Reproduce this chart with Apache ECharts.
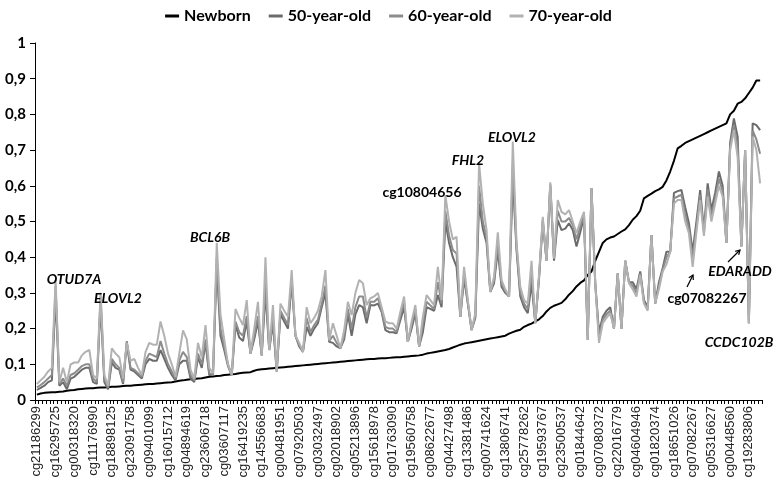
<!DOCTYPE html>
<html><head><meta charset="utf-8">
<script src="https://cdn.jsdelivr.net/npm/echarts@6/dist/echarts.min.js"></script>
<style>html,body{margin:0;padding:0;background:#fff}#c{width:777px;height:485px}</style>
</head><body><div id="c"></div>
<script>
const tickLabels = ['cg21186299','cg16295725','cg00318320','cg11176990','cg18898125','cg23091758','cg09401099','cg16015712','cg04894619','cg23606718','cg03607117','cg16419235','cg14556683','cg00481951','cg07920503','cg03032497','cg02018902','cg05213896','cg15618978','cg01763090','cg19560758','cg08622677','cg04427498','cg13381486','cg00741624','cg13806741','cg25778262','cg19593767','cg23500537','cg01844642','cg07080372','cg22016779','cg04604946','cg01820374','cg18651026','cg07082267','cg05316627','cg00448560','cg19283806'];

const newborn = [
.015,.018,.02,.021,.022,.022,.023,.024,.026,.027,
.028,.03,.031,.032,.033,.033,.034,.035,.035,.036,
.037,.037,.038,.039,.04,.04,.041,.042,.043,.044,
.045,.045,.046,.047,.048,.049,.05,.052,.054,.055,
.057,.058,.059,.06,.061,.063,.065,.066,.067,.068,
.07,.071,.072,.073,.075,.076,.077,.078,.082,.085,
.086,.087,.088,.089,.09,.091,.092,.093,.094,.095,
.096,.097,.098,.099,.1,.101,.102,.103,.104,.105,
.106,.107,.108,.109,.11,.111,.112,.113,.114,.115,
.115,.116,.117,.117,.118,.119,.12,.12,.121,.122,
.123,.124,.125,.127,.13,.132,.134,.136,.138,.14,
.143,.147,.151,.155,.158,.16,.162,.164,.166,.168,
.17,.172,.174,.176,.178,.18,.186,.19,.194,.197,
.205,.21,.214,.22,.226,.235,.248,.258,.264,.268,
.272,.282,.295,.305,.318,.328,.335,.35,.36,.39,
.415,.44,.45,.455,.458,.465,.472,.478,.49,.505,
.515,.53,.565,.572,.578,.585,.59,.597,.615,.64,
.67,.705,.712,.72,.725,.73,.735,.74,.745,.75,
.755,.76,.765,.77,.775,.8,.81,.83,.835,.845,
.86,.875,.895,.895];

const age50 = [
.028,.034,.04,.05,.055,.29,.04,.05,.03,.06,
.065,.075,.085,.09,.09,.05,.045,.27,.05,.03,
.105,.09,.085,.045,.16,.085,.08,.07,.06,.1,
.115,.11,.11,.14,.115,.09,.07,.055,.1,.11,
.11,.06,.05,.12,.09,.16,.07,.07,.38,.18,
.14,.095,.07,.21,.175,.165,.22,.13,.17,.22,
.125,.3,.14,.215,.08,.24,.22,.2,.33,.18,
.15,.135,.205,.18,.2,.215,.26,.3,.163,.16,
.15,.145,.17,.24,.18,.24,.266,.26,.215,.266,
.265,.27,.247,.196,.19,.19,.187,.224,.26,.163,
.2,.243,.15,.19,.26,.255,.25,.294,.26,.5,
.44,.4,.373,.233,.34,.27,.196,.23,.55,.48,
.44,.303,.327,.42,.317,.3,.29,.62,.42,.29,
.26,.243,.327,.215,.34,.5,.39,.6,.39,.504,
.476,.48,.495,.476,.43,.47,.513,.168,.593,.327,
.19,.233,.25,.26,.2,.355,.2,.39,.33,.33,
.31,.36,.28,.26,.462,.27,.33,.37,.415,.415,
.58,.585,.588,.54,.495,.415,.5,.588,.476,.607,
.532,.58,.64,.6,.44,.72,.789,.737,.43,.7,
.215,.775,.77,.756];

const age60 = [
.035,.042,.05,.06,.07,.32,.045,.06,.04,.07,
.075,.085,.095,.1,.1,.06,.05,.29,.06,.035,
.115,.1,.09,.05,.165,.09,.085,.075,.065,.11,
.13,.125,.12,.165,.13,.1,.08,.06,.11,.135,
.12,.07,.055,.13,.1,.17,.075,.07,.4,.2,
.15,.1,.07,.22,.19,.18,.235,.13,.18,.235,
.125,.33,.14,.23,.08,.25,.23,.21,.34,.18,
.155,.135,.23,.19,.21,.225,.27,.32,.165,.18,
.16,.145,.18,.255,.2,.26,.29,.29,.23,.275,
.275,.285,.25,.205,.2,.2,.19,.235,.275,.163,
.21,.255,.15,.21,.275,.265,.255,.33,.27,.53,
.46,.42,.41,.233,.355,.275,.196,.235,.6,.5,
.455,.303,.335,.44,.325,.305,.29,.66,.43,.3,
.27,.255,.36,.215,.345,.505,.39,.605,.395,.53,
.5,.5,.51,.49,.45,.485,.52,.168,.593,.327,
.175,.225,.24,.25,.2,.355,.2,.39,.33,.32,
.3,.355,.275,.255,.462,.27,.32,.365,.4,.415,
.565,.57,.575,.52,.48,.395,.485,.575,.47,.59,
.515,.565,.62,.585,.44,.71,.77,.71,.43,.7,
.215,.755,.73,.69];

const age70 = [
.045,.055,.065,.08,.09,.335,.05,.09,.05,.1,
.105,.105,.125,.135,.14,.07,.06,.30,.07,.04,
.145,.13,.12,.06,.16,.11,.115,.09,.07,.135,
.16,.155,.155,.22,.18,.13,.1,.065,.13,.195,
.17,.085,.06,.16,.12,.21,.09,.075,.44,.24,
.17,.1,.07,.255,.23,.21,.28,.13,.2,.275,
.125,.4,.14,.266,.08,.27,.25,.233,.364,.18,
.16,.135,.26,.215,.23,.25,.29,.364,.168,.215,
.18,.145,.196,.275,.238,.3,.336,.327,.266,.285,
.29,.3,.26,.22,.215,.215,.2,.247,.29,.163,
.22,.266,.15,.233,.294,.28,.266,.373,.28,.574,
.5,.45,.457,.233,.373,.28,.196,.243,.663,.55,
.476,.303,.345,.47,.336,.31,.29,.724,.44,.317,
.28,.27,.39,.215,.35,.513,.39,.61,.397,.56,
.527,.52,.532,.5,.467,.5,.527,.168,.593,.327,
.16,.215,.23,.243,.2,.355,.2,.39,.327,.31,
.29,.35,.27,.25,.462,.27,.31,.36,.38,.415,
.55,.56,.56,.5,.467,.373,.47,.56,.46,.57,
.5,.55,.6,.57,.44,.7,.756,.68,.43,.7,
.215,.737,.7,.607];

const seriesNames = ['Newborn','50-year-old','60-year-old','70-year-old'];
const categories = newborn.map((_, i) => (i % 5 === 0 ? tickLabels[i / 5] : ''));

const FONT = 'Lato';
const chart = echarts.init(document.getElementById('c'), null, {renderer: 'canvas'});

function mkText(text, x, y, italic) {
  return {
    type: 'text', x: x, y: y, z: 100,
    style: {
      text: text, fill: '#000', align: 'center', verticalAlign: 'middle',
      fontFamily: FONT, fontSize: 14, fontWeight: 'bold', fontStyle: italic ? 'italic' : 'normal'
    }
  };
}
function mkLine(pts) {
  return {type: 'polyline', z: 100, shape: {points: pts}, style: {stroke: '#000', lineWidth: 1.2, fill: null}};
}

const colors = ['#000000', '#6b6b6b', '#8c8c8c', '#b2b2b2'];
const seriesData = [newborn, age50, age60, age70];

chart.setOption({
  animation: false,
  backgroundColor: '#fff',
  legend: {
    top: 3, left: 'center', icon: 'rect', itemWidth: 14, itemHeight: 3, itemGap: 18,
    data: seriesNames,
    textStyle: {fontFamily: FONT, fontWeight: 'bold', fontSize: 16, color: '#000'}
  },
  grid: {left: 35, right: 15, top: 43, bottom: 85},
  xAxis: {
    type: 'category', data: categories, boundaryGap: true,
    axisLine: {lineStyle: {color: '#000', width: 1}},
    axisTick: {show: true, interval: 0, length: 4, lineStyle: {color: '#000'}},
    axisLabel: {interval: 4, rotate: 90, margin: 6, fontFamily: 'Liberation Sans', fontSize: 13, color: '#222'},
    splitLine: {show: false}
  },
  yAxis: {
    type: 'value', min: 0, max: 1, interval: 0.1,
    axisLine: {show: true, lineStyle: {color: '#000', width: 1}},
    axisTick: {show: true, length: 5, lineStyle: {color: '#000'}},
    splitLine: {show: false},
    axisLabel: {
      margin: 9, fontFamily: FONT, fontWeight: 'bold', fontSize: 15, color: '#000',
      formatter: v => { const s = (Math.round(v * 10) / 10).toString(); return s.replace('.', ','); }
    }
  },
  series: seriesNames.map((name, k) => ({
    name: name, type: 'line', data: seriesData[k], symbol: 'none', showSymbol: false,
    lineStyle: {color: colors[k], width: 2}, itemStyle: {color: colors[k]},
    emphasis: {disabled: true}
  })),
  graphic: [
    mkText('OTUD7A', 74, 279, true),
    mkText('ELOVL2', 118, 298, true),
    mkText('BCL6B', 210, 237, true),
    mkText('cg10804656', 422, 192, false),
    mkText('FHL2', 468, 160, true),
    mkText('ELOVL2', 512, 137, true),
    mkText('EDARADD', 740, 271, true),
    mkText('cg07082267', 707, 298, false),
    mkText('CCDC102B', 739, 342, true),
    mkLine([[728, 262], [740, 250]]),
    mkLine([[735.2, 251.3], [740, 250], [738.7, 254.8]]),
    mkLine([[687, 287], [693, 275]]),
    mkLine([[688.8, 277.8], [693, 275], [693.3, 280]])
  ]
});
</script></body></html>
